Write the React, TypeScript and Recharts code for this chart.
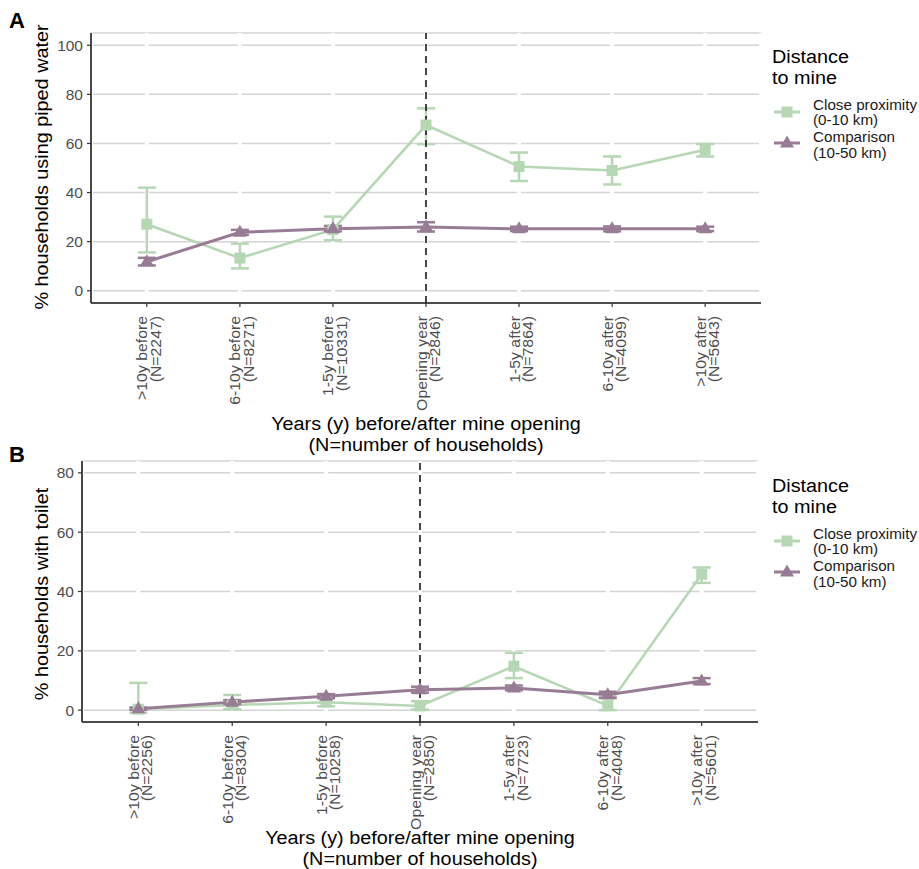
import React from "react";
import {
  LineChart,
  Line,
  XAxis,
  YAxis,
  CartesianGrid,
  ReferenceLine,
  ErrorBar,
} from "recharts";

// categories on the x axis
const periods = [
  ">10y before",
  "6-10y before",
  "1-5y before",
  "Opening year",
  "1-5y after",
  "6-10y after",
  ">10y after",
];
const periodIndex = [1, 2, 3, 4, 5, 6, 7];

// panel A - piped water
const waterN = [2247, 8271, 10331, 2846, 7864, 4099, 5643];
const waterClose = [27.1, 13.3, 24.9, 67.5, 50.6, 49.0, 57.4];
const waterCloseLo = [15.6, 9.1, 20.6, 59.7, 44.7, 43.3, 54.7];
const waterCloseHi = [42.0, 19.2, 30.2, 74.3, 56.3, 54.7, 59.8];
const waterComp = [11.8, 23.8, 25.3, 26.0, 25.2, 25.2, 25.2];
const waterCompLo = [10.3, 22.8, 24.2, 24.1, 24.3, 24.2, 24.3];
const waterCompHi = [13.4, 24.8, 26.4, 27.9, 26.1, 26.2, 26.1];

// panel B - toilet
const toiletN = [2256, 8304, 10258, 2850, 7723, 4048, 5601];
const toiletClose = [0.3, 1.7, 2.7, 1.4, 14.8, 1.5, 45.8];
const toiletCloseLo = [-0.9, 0.3, 1.3, 0.2, 10.8, 0.0, 42.9];
const toiletCloseHi = [9.2, 5.1, 4.2, 3.0, 19.3, 4.0, 48.1];
const toiletComp = [0.5, 2.7, 4.7, 6.9, 7.5, 5.2, 9.8];
const toiletCompLo = [0.1, 2.0, 4.0, 5.9, 6.7, 4.2, 8.8];
const toiletCompHi = [0.9, 3.4, 5.4, 7.9, 8.3, 6.2, 10.8];

const waterTicks = [0, 20, 40, 60, 80, 100];
const toiletTicks = [0, 20, 40, 60, 80];

const GREEN = "#b6d7b3";
const PURPLE = "#987c95";
const AXIS_TEXT = "#4d4d4d";
const FONT = '"Liberation Sans", Arial, Helvetica, sans-serif';

function makeRows(
  close: number[],
  closeLo: number[],
  closeHi: number[],
  comp: number[],
  compLo: number[],
  compHi: number[]
) {
  return periodIndex.map((x, i) => ({
    x,
    close: close[i],
    closeErr: [close[i] - closeLo[i], closeHi[i] - close[i]],
    comp: comp[i],
    compErr: [comp[i] - compLo[i], compHi[i] - comp[i]],
  }));
}

const waterRows = makeRows(waterClose, waterCloseLo, waterCloseHi, waterComp, waterCompLo, waterCompHi);
const toiletRows = makeRows(toiletClose, toiletCloseLo, toiletCloseHi, toiletComp, toiletCompLo, toiletCompHi);

const SquareDot = (props: any) => {
  const { cx, cy } = props;
  if (cx == null || cy == null) return <g />;
  return <rect x={cx - 5.5} y={cy - 5.5} width={11} height={11} fill={GREEN} />;
};

const TriangleDot = (props: any) => {
  const { cx, cy } = props;
  if (cx == null || cy == null) return <g />;
  return (
    <polygon
      points={`${cx},${cy - 7.5} ${cx + 7},${cy + 4.5} ${cx - 7},${cy + 4.5}`}
      fill={PURPLE}
    />
  );
};

// two-line rotated tick label: period + household count
const PeriodTick = (props: any) => {
  const { x, y, payload, counts } = props;
  const i = Number(payload.value) - 1;
  if (i < 0 || i > 6) return <g />;
  return (
    <g transform={`translate(${x},${y + 7})`}>
      <text
        transform="rotate(-90) scale(1.13,1)"
        textAnchor="end"
        fill={AXIS_TEXT}
        fontSize={14}
        fontFamily={FONT}
      >
        <tspan x={0} y={0.5}>
          {periods[i]}
        </tspan>
        <tspan x={0} y={14}>{`(N=${counts[i]})`}</tspan>
      </text>
    </g>
  );
};

type PanelProps = {
  rows: any[];
  counts: number[];
  yDomain: [number, number];
  yTicks: number[];
  height: number;
  margin: { top: number; right: number; bottom: number; left: number };
};

const Panel = ({ rows, counts, yDomain, yTicks, height, margin }: PanelProps) => (
  <LineChart width={919} height={height} data={rows} margin={margin}>
    <CartesianGrid horizontal vertical={false} stroke="#d4d4d4" strokeWidth={1.5} />
    <CartesianGrid horizontal={false} vertical stroke="#ffffff" strokeWidth={4} />
    <XAxis
      dataKey="x"
      type="number"
      domain={[0.4, 7.6]}
      ticks={periodIndex}
      interval={0}
      height={110}
      tickSize={4}
      tickMargin={2}
      tickLine={{ stroke: "#333333", strokeWidth: 1.2 }}
      axisLine={{ stroke: "#1a1a1a", strokeWidth: 1.6 }}
      tick={<PeriodTick counts={counts} />}
    />
    <YAxis
      type="number"
      domain={yDomain}
      ticks={yTicks}
      interval={0}
      width={40}
      tickSize={4}
      tickMargin={4}
      allowDataOverflow
      tickLine={{ stroke: "#333333", strokeWidth: 1.2 }}
      axisLine={{ stroke: "#1a1a1a", strokeWidth: 1.6 }}
      tick={{ fill: AXIS_TEXT, fontSize: 15.5, fontFamily: FONT }}
    />
    <Line
      dataKey="close"
      type="linear"
      stroke={GREEN}
      strokeWidth={2.5}
      dot={SquareDot}
      activeDot={false}
      isAnimationActive={false}
    >
      <ErrorBar dataKey="closeErr" direction="y" width={9} stroke={GREEN} strokeWidth={2.5} isAnimationActive={false} />
    </Line>
    <Line
      dataKey="comp"
      type="linear"
      stroke={PURPLE}
      strokeWidth={3}
      dot={TriangleDot}
      activeDot={false}
      isAnimationActive={false}
    >
      <ErrorBar dataKey="compErr" direction="y" width={9} stroke={PURPLE} strokeWidth={2.5} isAnimationActive={false} />
    </Line>
    <ReferenceLine x={4} stroke="#1a1a1a" strokeWidth={1.6} strokeDasharray="7 5" />
  </LineChart>
);

const LegendIcon = ({ color, shape }: { color: string; shape: "square" | "triangle" }) => (
  <svg width={26} height={20}>
    <line x1={0} y1={10} x2={26} y2={10} stroke={color} strokeWidth={3} />
    {shape === "square" ? (
      <rect x={7.5} y={4.5} width={11} height={11} fill={color} />
    ) : (
      <polygon points="13,2.5 20,14.5 6,14.5" fill={color} />
    )}
  </svg>
);

const stretch = { transform: "scaleX(1.1)", transformOrigin: "0 0", whiteSpace: "nowrap" as const };

const DistanceLegend = ({ top }: { top: number }) => (
  <>
    <div
      style={{ position: "absolute", left: 772, top: top + 47, fontSize: 18, lineHeight: "21px", color: "#000", ...stretch }}
    >
      Distance
      <br />
      to mine
    </div>
    <div style={{ position: "absolute", left: 774, top: top + 102 }}>
      <LegendIcon color={GREEN} shape="square" />
    </div>
    <div style={{ position: "absolute", left: 774, top: top + 133 }}>
      <LegendIcon color={PURPLE} shape="triangle" />
    </div>
    <div
      style={{ position: "absolute", left: 813, top: top + 97.5, fontSize: 14.5, lineHeight: "15px", color: "#1a1a1a", ...stretch, transform: "scaleX(1.05)" }}
    >
      Close proximity
      <br />
      (0-10 km)
    </div>
    <div
      style={{ position: "absolute", left: 813, top: top + 128.5, fontSize: 14.5, lineHeight: "16px", color: "#1a1a1a", ...stretch, transform: "scaleX(1.05)" }}
    >
      Comparison
      <br />
      (10-50 km)
    </div>
  </>
);

const YTitle = ({ text, cy }: { text: string; cy: number }) => (
  <div
    style={{
      position: "absolute",
      left: 42,
      top: cy,
      transform: "translate(-50%, -50%) rotate(-90deg) scaleX(1.1)",
      whiteSpace: "nowrap",
      fontSize: 18,
      lineHeight: "18px",
      color: "#000",
    }}
  >
    {text}
  </div>
);

const XTitle = ({ cx, top }: { cx: number; top: number }) => (
  <div
    style={{
      position: "absolute",
      left: cx,
      top,
      transform: "translateX(-50%) scaleX(1.1)",
      whiteSpace: "nowrap",
      textAlign: "center",
      fontSize: 18,
      lineHeight: "21px",
      color: "#000",
    }}
  >
    Years (y) before/after mine opening
    <br />
    (N=number of households)
  </div>
);

export default function App() {
  return (
    <div
      style={{
        position: "relative",
        width: 919,
        height: 869,
        background: "#ffffff",
        fontFamily: FONT,
        overflow: "hidden",
      }}
    >
      <style>{`body{margin:0}`}</style>
      <div style={{ position: "absolute", left: 0, top: 0 }}>
        <Panel
          rows={waterRows}
          counts={waterN}
          yDomain={[-5, 105]}
          yTicks={waterTicks}
          height={430}
          margin={{ top: 33, right: 158, bottom: 17, left: 51 }}
        />
      </div>
      <div style={{ position: "absolute", left: 0, top: 430 }}>
        <Panel
          rows={toiletRows}
          counts={toiletN}
          yDomain={[-4, 84]}
          yTicks={toiletTicks}
          height={439}
          margin={{ top: 31, right: 161, bottom: 37, left: 42 }}
        />
      </div>

      <div style={{ position: "absolute", left: 9, top: 10, fontSize: 22, lineHeight: "22px", fontWeight: 700 }}>A</div>
      <div style={{ position: "absolute", left: 9, top: 444, fontSize: 22, lineHeight: "22px", fontWeight: 700 }}>B</div>

      <YTitle text="% households using piped water" cy={167} />
      <YTitle text="% households with toilet" cy={594} />
      <XTitle cx={426} top={414} />
      <XTitle cx={420} top={827.5} />

      <DistanceLegend top={0} />
      <DistanceLegend top={429} />
    </div>
  );
}
